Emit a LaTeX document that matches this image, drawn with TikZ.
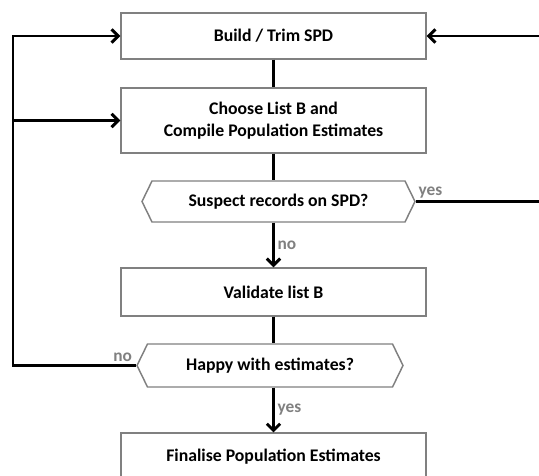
\documentclass[tikz,border=0pt]{standalone}
\usepackage{fontspec}
\setmainfont{Carlito}
\usetikzlibrary{arrows.meta,shapes.symbols}
\begin{document}
\begin{tikzpicture}[x=0.75pt, y=-0.75pt, line width=2.2pt,
  caja/.style={draw=gray, line width=1.1pt, fill=white, minimum width=228.75pt, inner sep=0pt,
    align=center, font={\bfseries\fontsize{13.3}{16.5}\selectfont}},
  pregunta/.style={caja, shape=signal, signal to=west and east, signal pointer angle=128},
  etiqueta/.style={text=gray, inner sep=2pt, font={\bfseries\fontsize{13}{15}\selectfont}},
  flecha/.style={-{Straight Barb[length=5pt,width=10pt]}}]
  \useasboundingbox (0,0) rectangle (539,475);
  % las cajas
  \node[caja, minimum height=34.5pt] (trim) at (273.5,36) {Build / Trim SPD};
  \node[caja, minimum height=48.75pt] (lista) at (273.5,120.5) {Choose List B and\\Compile Population Estimates};
  \node[pregunta, minimum width=204.75pt, minimum height=30.75pt] (sospecha) at (278.5,201.5) {Suspect records on SPD?};
  \node[caja, minimum height=36pt] (valida) at (273.5,292) {Validate list B};
  \node[pregunta, minimum width=199.5pt, minimum height=32.25pt] (contento) at (270,365.5) {Happy with estimates?};
  \node[caja, minimum height=35pt] (final) at (273.5,456.5) {Finalise Population Estimates};
  % las conexiones
  \coordinate (der) at (545,201.5);
  \coordinate (izq) at (13,365.5);
  \draw (trim) -- (lista);
  \draw (lista.south) -- (lista.south |- sospecha.north);
  \draw[flecha] (valida.north |- sospecha.south) -- (valida.north) node[etiqueta, midway, right] (no1) {no};
  \draw[flecha] (sospecha.east) -- (der) -- (der |- trim.east) -- (trim.east);
  \node[etiqueta, anchor=south west, inner sep=1pt] (si1) at (sospecha.east) {yes};
  \draw (valida.south) -- (valida.south |- contento.north);
  \draw[flecha] (valida.south |- contento.south) -- (final.north) node[etiqueta, midway, right] (si2) {yes};
  \draw[flecha] (contento.west) -- (izq) -- (izq |- trim.west) -- (trim.west);
  \draw[flecha] (izq |- lista.west) -- (lista.west);
  \node[etiqueta, anchor=south east] (no2) at (contento.west) {no};
\end{tikzpicture}
\end{document}
